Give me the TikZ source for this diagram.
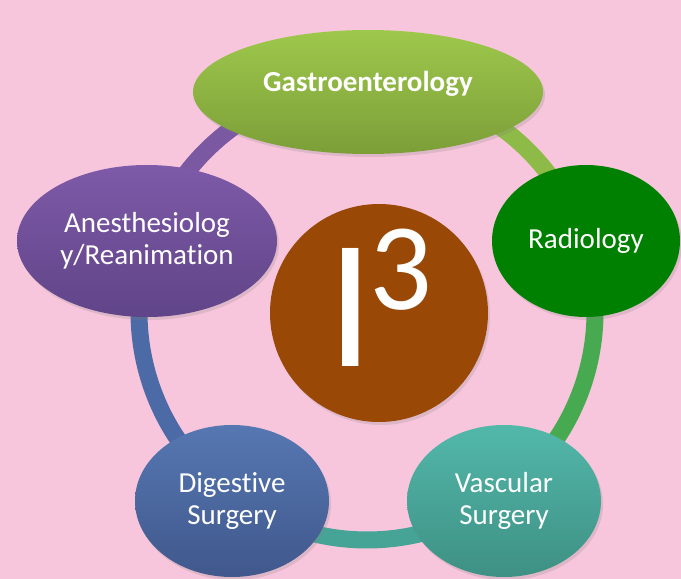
\documentclass[tikz,border=0pt]{standalone}
\usepackage{fontspec}
\setmainfont{Carlito}[Ligatures=NoCommon]
\usetikzlibrary{shapes.geometric,shadows}
\definecolor{bgclr}{RGB}{248,198,220}
\definecolor{gastrotop}{RGB}{158,200,76}
\definecolor{gastrobot}{RGB}{124,158,56}
\definecolor{radioclr}{RGB}{0,128,0}
\definecolor{anestop}{RGB}{126,90,168}
\definecolor{anesbot}{RGB}{96,68,136}
\definecolor{digtop}{RGB}{86,119,178}
\definecolor{digbot}{RGB}{64,88,140}
\definecolor{vasctop}{RGB}{82,184,170}
\definecolor{vascbot}{RGB}{62,144,132}
\definecolor{coreclr}{RGB}{153,72,6}
\definecolor{ringpurple}{RGB}{122,88,162}
\definecolor{ringolive}{RGB}{142,186,72}
\definecolor{ringgreen}{RGB}{72,170,80}
\definecolor{ringteal}{RGB}{70,164,150}
\definecolor{ringblue}{RGB}{76,106,166}

\begin{document}
\begin{tikzpicture}[
    x=1pt,
    y=1pt,
    font=\fontsize{29}{32}\selectfont,
    unit/.style={ellipse, inner sep=0pt, text=white, align=center, drop shadow={opacity=0.22, shadow xshift=2pt, shadow yshift=-3pt}},
    ring/.style={line width=17pt}
]

% Background.
\fill[bgclr] (0,0) rectangle (681,579);
\useasboundingbox (0,0) rectangle (681,579);

% Ring.
\coordinate (ringc) at (367,267);
\draw[ring, ringpurple] (ringc) ++(162:228) arc[start angle=162, end angle=90, radius=228];
\draw[ring, ringolive] (ringc) ++(90:228) arc[start angle=90, end angle=18, radius=228];
\draw[ring, ringgreen] (ringc) ++(18:228) arc[start angle=18, end angle=-54, radius=228];
\draw[ring, ringteal] (ringc) ++(-54:228) arc[start angle=-54, end angle=-126, radius=228];
\draw[ring, ringblue] (ringc) ++(-126:228) arc[start angle=-126, end angle=-198, radius=228];

% Centre.
\node[circle, fill=coreclr, minimum size=218pt, inner sep=0pt, text=white, drop shadow={opacity=0.22, shadow xshift=2pt, shadow yshift=-3pt}] (core) at (379,266) {};
\node[text=white, anchor=base west, inner sep=0pt, font=\fontsize{184}{184}\selectfont] (i3) at (327,212) {I\hspace{-4pt}\raisebox{57pt}{\fontsize{124}{124}\selectfont 3}};

% Disciplines.
\node[unit, top color=gastrotop, bottom color=gastrobot, minimum width=350pt, minimum height=124pt, font=\fontsize{29}{32}\selectfont\bfseries] (gastro) at (368,487) {\raisebox{0pt}[0pt][0pt]{Gastroenterology}};
\node[unit, fill=radioclr, minimum width=188pt, minimum height=152pt] (radio) at (586,338) {Radiology};
\node[unit, top color=anestop, bottom color=anesbot, minimum width=260pt, minimum height=152pt] (anes) at (147,338) {Anesthesiolog\\y/Reanimation};
\node[unit, top color=digtop, bottom color=digbot, minimum width=194pt, minimum height=152pt] (dig) at (232,78) {Digestive\\Surgery};
\node[unit, top color=vasctop, bottom color=vascbot, minimum width=194pt, minimum height=152pt] (vasc) at (504,78) {Vascular\\Surgery};

\end{tikzpicture}
\end{document}
